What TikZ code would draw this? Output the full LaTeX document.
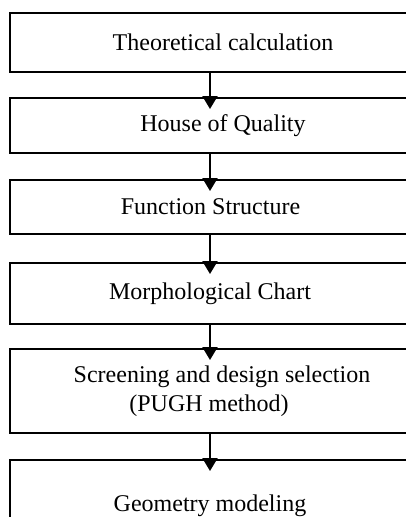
\documentclass[tikz,border=0pt]{standalone}
\usepackage{fontspec}
\setmainfont{Liberation Serif}
\usetikzlibrary{calc}
\usetikzlibrary{math}
\usetikzlibrary{arrows.meta}

\begin{document}
\begin{tikzpicture}[x=0.75pt, y=-0.75pt]
    \tikzmath {
        \boxL = 9;
        \arrowX = 210;
        \tipIn = 12;
    }
    
    \tikzstyle{stage}=[draw, line width=1.5pt, anchor=north west, inner sep=0pt, align=center, font=\fontsize{18pt}{21.75pt}\selectfont]
    \tikzstyle{flow}=[line width=1.5pt, -{Triangle[length=9.75pt, width=11.25pt]}]
    
    \useasboundingbox (0,0) rectangle (406,517);
    \clip (0,0) rectangle (406,517);
    
    \coordinate (col) at (\arrowX, 0);
    
    \coordinate (theo_c) at (\boxL, 12);
    \node[stage, minimum width=426*0.75pt, minimum height=59*0.75pt] (theo) at (theo_c) {Theoretical calculation};
    
    \coordinate (hoq_c) at (\boxL, 97);
    \node[stage, minimum width=426*0.75pt, minimum height=55*0.75pt] (hoq) at (hoq_c) {House of Quality};
    
    \coordinate (func_c) at (\boxL, 179);
    \node[stage, minimum width=401*0.75pt, minimum height=54*0.75pt] (func) at (func_c) {Function Structure};
    
    \coordinate (morph_c) at (\boxL, 262);
    \node[stage, minimum width=400*0.75pt, minimum height=61*0.75pt] (morph) at (morph_c) {Morphological Chart};
    
    \coordinate (pugh_c) at (\boxL, 348);
    \node[stage, minimum width=424*0.75pt, minimum height=84*0.75pt] (pugh) at (pugh_c) {Screening and design selection\\(PUGH method)\hspace*{19.5pt}};
    
    \coordinate (geom_c) at (\boxL, 459);
    \node[stage, minimum width=400*0.75pt, minimum height=92*0.75pt] (geom) at (geom_c) {Geometry modeling};
    
    \draw[flow] (theo.south -| col) -- ($(hoq.north -| col) + (0, \tipIn)$);
    \draw[flow] (hoq.south -| col) -- ($(func.north -| col) + (0, \tipIn)$);
    \draw[flow] (func.south -| col) -- ($(morph.north -| col) + (0, \tipIn)$);
    \draw[flow] (morph.south -| col) -- ($(pugh.north -| col) + (0, \tipIn)$);
    \draw[flow] (pugh.south -| col) -- ($(geom.north -| col) + (0, \tipIn)$);
\end{tikzpicture}
\end{document}
